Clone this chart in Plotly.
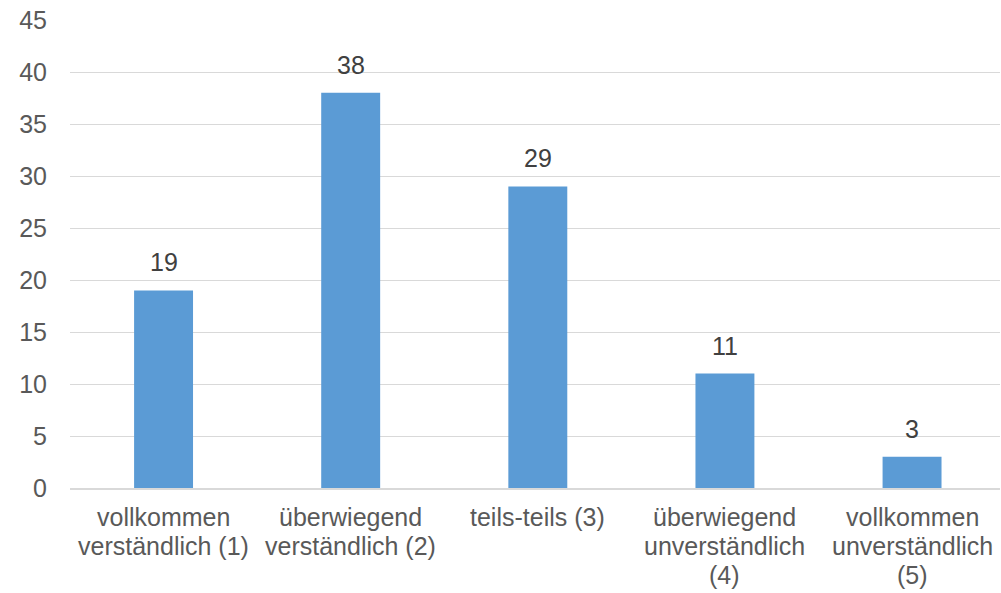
import plotly.graph_objects as go

# Category labels, one list of lines per category
category_lines = [
    ["vollkommen", "verständlich (1)"],
    ["überwiegend", "verständlich (2)"],
    ["teils-teils (3)"],
    ["überwiegend", "unverständlich", "(4)"],
    ["vollkommen", "unverständlich", "(5)"],
]
counts = [19, 38, 29, 11, 3]
y_ticks = [0, 5, 10, 15, 20, 25, 30, 35, 40, 45]

text_color = "#595959"
label_color = "#404040"
font_family = "Liberation Sans, Arial, sans-serif"
font_size = 25
line_step = 29  # vertical distance between label lines, px

x_pos = list(range(len(category_lines)))

fig = go.Figure(
    go.Bar(
        x=x_pos,
        y=counts,
        marker=dict(color="#5B9BD5", line=dict(width=0)),
        hoverinfo="y",
    )
)

annotations = []
# value labels above bars
for xi, v in zip(x_pos, counts):
    annotations.append(dict(
        x=xi, y=v, xref="x", yref="y",
        text=str(v), showarrow=False,
        xanchor="center", yanchor="bottom", yshift=12,
        font=dict(size=font_size, color=label_color, family=font_family),
    ))
# category labels below the axis
for xi, lines in zip(x_pos, category_lines):
    for k, line in enumerate(lines):
        annotations.append(dict(
            x=xi, y=0, xref="x", yref="paper",
            text=line, showarrow=False,
            xanchor="center", yanchor="top", yshift=-13 - k * line_step,
            font=dict(size=font_size, color=text_color, family=font_family),
        ))

fig.update_layout(
    width=1001,
    height=593,
    margin=dict(l=70, r=1, t=20, b=105),
    paper_bgcolor="white",
    plot_bgcolor="white",
    bargap=0.685,
    showlegend=False,
    font=dict(family=font_family, size=font_size, color=text_color),
    annotations=annotations,
    xaxis=dict(
        range=[-0.5, 4.47],
        tickmode="array",
        tickvals=x_pos,
        showticklabels=False,
        showgrid=False,
        showline=True,
        linecolor="#D9D9D9",
        linewidth=2,
        ticks="",
        zeroline=False,
    ),
    yaxis=dict(
        range=[0, 45],
        tickmode="array",
        tickvals=y_ticks,
        showgrid=True,
        gridcolor="#D9D9D9",
        gridwidth=1,
        zeroline=False,
        showline=False,
        ticks="outside",
        ticklen=17,
        tickcolor="rgba(0,0,0,0)",
        tickfont=dict(size=font_size, color=text_color),
    ),
)

fig.write_html("out.html")
